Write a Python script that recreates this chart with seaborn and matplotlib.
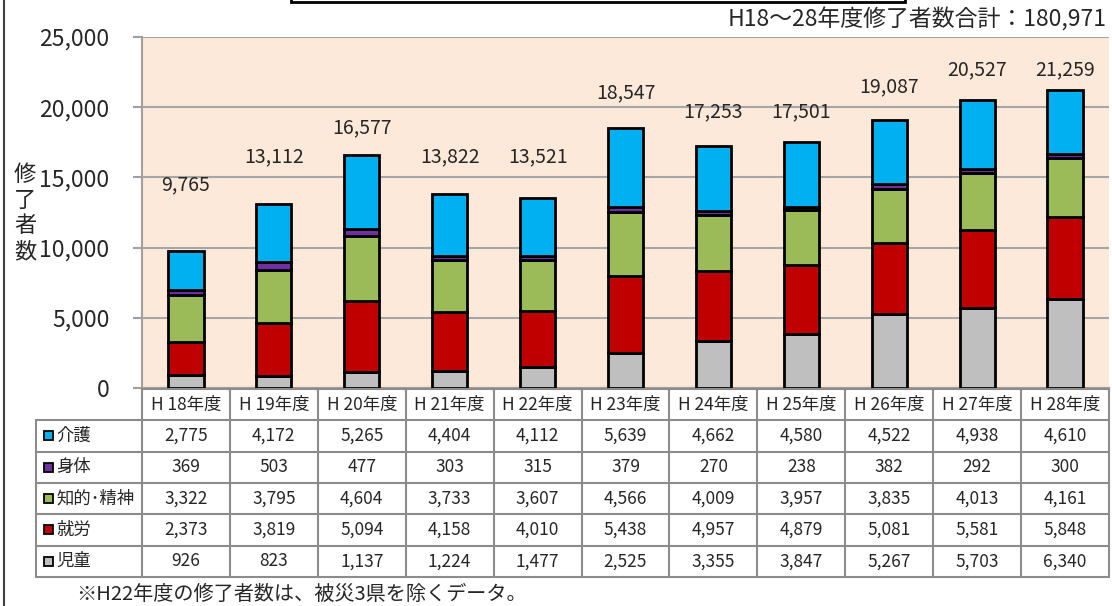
import matplotlib
matplotlib.use("Agg")
import matplotlib.pyplot as plt
from matplotlib.patches import Rectangle
from matplotlib.ticker import FuncFormatter
import numpy as np
import seaborn as sns

# data
years = ["H 18年度", "H 19年度", "H 20年度", "H 21年度", "H 22年度", "H 23年度",
         "H 24年度", "H 25年度", "H 26年度", "H 27年度", "H 28年度"]
kaigo = [2775, 4172, 5265, 4404, 4112, 5639, 4662, 4580, 4522, 4938, 4610]
shintai = [369, 503, 477, 303, 315, 379, 270, 238, 382, 292, 300]
chiteki = [3322, 3795, 4604, 3733, 3607, 4566, 4009, 3957, 3835, 4013, 4161]
shuro = [2373, 3819, 5094, 4158, 4010, 5438, 4957, 4879, 5081, 5581, 5848]
jido = [926, 823, 1137, 1224, 1477, 2525, 3355, 3847, 5267, 5703, 6340]
totals = [9765, 13112, 16577, 13822, 13521, 18547, 17253, 17501, 19087, 20527, 21259]

# where the total labels sit (y, data units) -- placed by hand in the original
label_y = [14460, 16450, 18550, 16450, 16450, 21010, 19660, 19660, 21440, 22650, 22650]

# table row order (top to bottom) and bar colours
row_names = ["介護", "身体", "知的･精神", "就労", "児童"]
row_data = [kaigo, shintai, chiteki, shuro, jido]
row_colors = ["#00B0F0", "#7030A0", "#9BBB59", "#C00000", "#BFBFBF"]

sns.set_style("white")
plt.rcParams["font.family"] = ["Noto Sans CJK JP", "DejaVu Sans"]

W, H = 1112, 606
fig = plt.figure(figsize=(W / 100, H / 100), dpi=100)

# plot area in pixels: x 142..1109, y 37..388
px_l, px_r, px_t, px_b = 142, 1109, 37, 388
ax = fig.add_axes([px_l / W, 1 - px_b / H, (px_r - px_l) / W, (px_b - px_t) / H])
ax.set_facecolor("#FDE9D9")

# stacked bars, bottom series first
bottom = np.zeros(len(years))
for vals, col in zip(row_data[::-1], row_colors[::-1]):
    sns.barplot(x=years, y=vals, bottom=bottom, color=col, saturation=1,
                edgecolor="black", linewidth=2, width=0.4, errorbar=None,
                ax=ax, zorder=3)
    bottom += np.array(vals)

for i, (t, ly) in enumerate(zip(totals, label_y)):
    ax.text(i, ly, f"{t:,}", ha="center", va="center", fontsize=14, zorder=4)

ax.set_xlim(-0.5, len(years) - 0.5)
ax.set_ylim(0, 25000)
ax.set_yticks(range(0, 25001, 5000))
ax.yaxis.set_major_formatter(FuncFormatter(lambda v, p: f"{int(v):,}"))
ax.tick_params(axis="y", labelsize=16.5, length=6.5, width=1.5, color="#A0A0A0",
               left=True, pad=17)
ax.set_xticks([])
ax.set_xlabel("")
ax.set_ylabel("")
ax.grid(axis="y", color="#A6A6A6", linewidth=1.5, zorder=0)
ax.set_axisbelow(True)
for s in ["top", "right"]:
    ax.spines[s].set_visible(False)
for s in ["left", "bottom"]:
    ax.spines[s].set_color("#A0A0A0")
    ax.spines[s].set_linewidth(1.5)

# overlay in pixel coords for table and extra text
ov = fig.add_axes([0, 0, 1, 1])
ov.set_xlim(0, W)
ov.set_ylim(H, 0)
ov.axis("off")

grid_c = "#8C8C8C"
n = len(years)
cw = (px_r - px_l) / n
rh = 31.3
y0 = 389
lab_l = 36
col_edges = [px_l + i * cw for i in range(n + 1)]
row_edges = [y0 + k * rh for k in range(len(row_names) + 2)]

for x in col_edges:
    ov.plot([x, x], [row_edges[0], row_edges[-1]], color=grid_c, lw=1.5)
ov.plot([lab_l, lab_l], [row_edges[1], row_edges[-1]], color=grid_c, lw=1.5)
ov.plot([px_l, px_r], [row_edges[0], row_edges[0]], color=grid_c, lw=1.5)
for y in row_edges[1:]:
    ov.plot([lab_l, px_r], [y, y], color=grid_c, lw=1.5)

for i, yr in enumerate(years):
    ov.text(px_l + (i + 0.5) * cw, (row_edges[0] + row_edges[1]) / 2, yr,
            ha="center", va="center", fontsize=12.5)

for r, (name, vals, col) in enumerate(zip(row_names, row_data, row_colors)):
    yc = (row_edges[r + 1] + row_edges[r + 2]) / 2
    ov.add_patch(Rectangle((44, yc - 4.5), 9, 9, facecolor=col,
                           edgecolor="black", lw=1.3))
    ov.text(56, yc, name, ha="left", va="center", fontsize=12.5)
    for i, v in enumerate(vals):
        ov.text(px_l + (i + 0.5) * cw, yc, f"{v:,}", ha="center", va="center",
                fontsize=12.5)

# y label, one character per line
ov.text(14, 213, "修\n了\n者\n数", ha="left", va="center", fontsize=16,
        linespacing=1.15)

ov.text(1107, 20, "H18〜28年度修了者数合計：180,971", ha="right", va="center",
        fontsize=16.5)
ov.text(76, 594, "※H22年度の修了者数は、被災3県を除くデータ。", ha="left",
        va="center", fontsize=14.5)

# frame pieces visible in the screenshot
ov.add_patch(Rectangle((291, -20), 614, 22, facecolor="none",
                       edgecolor="black", lw=2))
ov.plot([4, 4], [0, H], color="#404040", lw=1.5)

fig.savefig("out.png", dpi=100)
